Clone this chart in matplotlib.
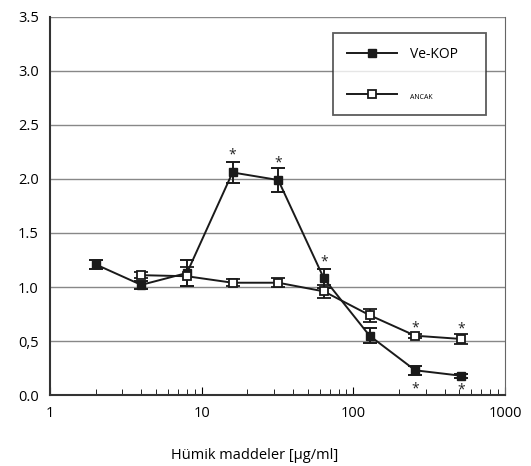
import matplotlib.pyplot as plt
import numpy as np
from matplotlib.lines import Line2D
from matplotlib.ticker import FixedLocator, FixedFormatter

plt.rcParams['font.family'] = ['Open Sans', 'DejaVu Sans']

conc_kop = [2, 4, 8, 16, 32, 64, 128, 256, 512]
kop = [1.21, 1.02, 1.13, 2.06, 1.99, 1.08, 0.55, 0.23, 0.18]
kop_err = [0.04, 0.04, 0.12, 0.10, 0.11, 0.09, 0.07, 0.04, 0.02]

conc_ancak = [4, 8, 16, 32, 64, 128, 256, 512]
ancak = [1.11, 1.10, 1.04, 1.04, 0.96, 0.74, 0.55, 0.52]
ancak_err = [0.03, 0.09, 0.03, 0.04, 0.06, 0.06, 0.02, 0.05]

# stars: (x, y)
stars_x = [16, 32, 64, 256, 512, 256, 512]
stars_y = [2.22, 2.15, 1.23, 0.62, 0.61, 0.06, 0.05]

yticks = [0.0, 0.5, 1.0, 1.5, 2.0, 2.5, 3.0, 3.5]
ylabels = ['0.0', '0,5', '1.0', '1.5', '2.0', '2.5', '3.0', '3.5']
xticks = [1, 10, 100, 1000]
xlabels = ['1', '10', '100', '1000']

fig = plt.figure(figsize=(5.31, 4.66), dpi=100)
ax = fig.add_axes([0.094, 0.152, 0.857, 0.812])

ax.errorbar(conc_kop, kop, yerr=kop_err, color='#1a1a1a', lw=1.4,
            marker='s', ms=6, mfc='#1a1a1a', mec='#1a1a1a',
            capsize=5, capthick=1.4, elinewidth=1.4, zorder=3)
ax.errorbar(conc_ancak, ancak, yerr=ancak_err, color='#1a1a1a', lw=1.4,
            marker='s', ms=6, mfc='white', mec='#1a1a1a', mew=1.3,
            capsize=5, capthick=1.4, elinewidth=1.4, zorder=4)

for x, y in zip(stars_x, stars_y):
    ax.text(x, y, '*', ha='center', va='center', fontsize=10, color='#222222')

ax.set_xscale('log')
ax.set_xlim(1, 1000)
ax.set_ylim(0, 3.5)
ax.xaxis.set_major_locator(FixedLocator(xticks))
ax.xaxis.set_major_formatter(FixedFormatter(xlabels))
ax.set_yticks(yticks)
ax.set_yticklabels(ylabels)
ax.yaxis.grid(True, color='#888888', lw=1)
ax.set_axisbelow(True)
ax.tick_params(axis='y', length=0, labelsize=10.5, pad=8)
ax.tick_params(axis='x', which='major', direction='in', length=6, labelsize=10.5, pad=8)
ax.tick_params(axis='x', which='minor', direction='in', length=4)
for s in ['left', 'bottom']:
    ax.spines[s].set_color('#333333')
    ax.spines[s].set_linewidth(1.5)
ax.spines['right'].set_color('#666666')
ax.spines['top'].set_visible(False)

ax.set_xlabel('Hümik maddeler [µg/ml]', fontsize=10.5)
ax.xaxis.set_label_coords(0.45, -0.14)

handles = [
    Line2D([], [], color='#1a1a1a', lw=1.4, marker='s', ms=6, mfc='#1a1a1a', mec='#1a1a1a'),
    Line2D([], [], color='#1a1a1a', lw=1.4, marker='s', ms=6, mfc='white', mec='#1a1a1a', mew=1.3),
]
leg = ax.legend(handles, ['Ve-KOP    ', 'ANCAK'], loc='upper left',
                bbox_to_anchor=(0.623, 0.958), frameon=True,
                fancybox=False, edgecolor='#333333', fontsize=10,
                labelspacing=2.0, handlelength=3.6, handletextpad=0.9,
                borderpad=1.0, borderaxespad=0)
leg.get_frame().set_linewidth(1.3)
leg.get_texts()[1].set_fontsize(5)

fig.savefig('out.png', dpi=100, facecolor='white')
